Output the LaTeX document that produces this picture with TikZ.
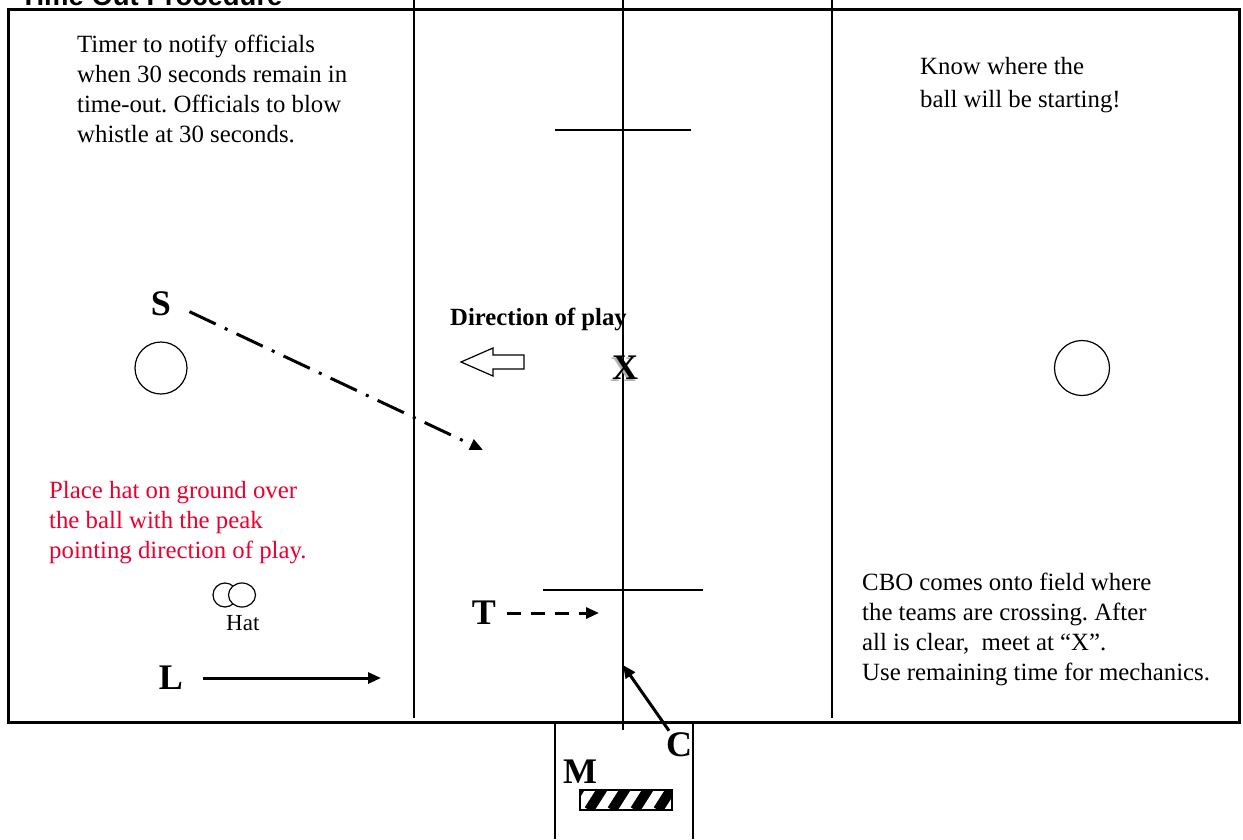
\documentclass[tikz,border=0pt]{standalone}
\usepackage{fontspec}
\setmainfont{Liberation Serif}
\newfontfamily\titlefont{Liberation Sans}
\usetikzlibrary{positioning,arrows.meta,shapes.geometric}
\definecolor{aviso}{RGB}{236,0,48}

\begin{document}
\frenchspacing
\begin{tikzpicture}[x=1pt, y=-1pt,
    linea/.style={line width=1.3pt},
    nota/.style={align=left, inner sep=0pt, anchor=north west,
                 font=\fontsize{24.8}{30}\selectfont},
    letra/.style={font=\fontsize{36}{36}\selectfont\bfseries, inner sep=2pt},
    mov/.style={line width=3pt, -{Triangle[length=13pt,width=11pt]}},
    circulo/.style={draw, line width=1.2pt, circle, inner sep=0pt}]
  \useasboundingbox (0,0) rectangle (1243,839);

  % campo
  \node[anchor=base west, inner sep=0pt,
        font=\titlefont\bfseries\fontsize{27.5}{28}\selectfont] (titulo) at (20,5) {Time Out Procedure};
  \draw[line width=3pt] (8,9) rectangle (1239,722);
  \draw[linea] (414,0) -- (414,718);
  \draw[linea] (623,0) -- (623,730);
  \draw[linea] (832,0) -- (832,718);
  \draw[linea] (555,130) -- (691,130);
  \draw[linea] (543,590) -- (703,590);
  \draw[linea] (555,722) -- (555,839);
  \draw[linea] (693,722) -- (693,839);
  \node[circulo, minimum size=52pt] (centroIzq) at (161,368) {};
  \node[circulo, minimum size=55pt] (centroDer) at (1082,368) {};

  % textos
  \node[nota] (tiempo) at (77,35) {Timer to notify officials\\ when 30 seconds remain in\\
    time-out. Officials to blow\\ whistle at 30 seconds.};
  \node[nota, font=\fontsize{24.8}{33}\selectfont] (saber) at (920,57) {Know where the\\ ball will be starting!};
  \node[nota, text=aviso] (gorro) at (49,481) {Place hat on ground over\\ the ball with the peak\\
    pointing direction of play.};
  \node[nota] (cbo) at (862,573) {CBO comes onto field where\\ the teams are crossing. After\\
    all is clear,\ \ meet at ``X''.\\ Use remaining time for mechanics.};
  \node[anchor=base west, inner sep=0pt, font=\fontsize{24.7}{24}\selectfont\bfseries] (direccion)
    at (450,325) {Direction of play};
  \draw[line width=1.2pt, line join=miter]
    (461,362) -- (493,348) -- (493,355) -- (524,355) -- (524,369) -- (493,369) -- (493,376) -- cycle;

  % balon
  \node[letra, text=black!30] at (623,370) {X};
  \node[letra] (X) at (625,368) {X};

  % sombrero
  \node[circulo, minimum size=24pt] (gorra1) at (225,595) {};
  \node[draw, line width=1.2pt, inner sep=0pt, fill=white, minimum width=27pt, minimum height=24pt, ellipse] (gorra2) at (242,595) {};
  \node[inner sep=0pt, anchor=base west, font=\fontsize{23}{23}\selectfont] (hat) at (226,630) {Hat};

  % oficiales
  \node[letra] (S) at (161,304) {S};
  \node[letra] (L) at (171,678) {L};
  \node[letra] (T) at (484,613) {T};
  \node[letra] (C) at (679,745) {C};
  \node[letra] (M) at (580,772) {M};
  \coordinate (sFin) at (483,450);
  \coordinate (lFin) at (381,678);
  \coordinate (tFin) at (599,613);
  \coordinate (cFin) at (623,665);
  \draw[mov, dash pattern=on 29pt off 10pt on 3pt off 10pt, shorten <=18pt] (S.east) -- (sFin);
  \draw[mov, shorten <=18pt] (L.east) -- (lFin);
  \draw[mov, dash pattern=on 14pt off 10pt, shorten <=9pt] (T.east) -- (tFin);
  \draw[mov] (C) -- (cFin);

  % mesa
  \node[draw, line width=1.2pt, minimum width=92pt, minimum height=20pt, inner sep=0pt,
        path picture={
          \foreach \k in {0,...,5}
            \draw[line width=10pt] ([xshift=\k*23pt-14pt]path picture bounding box.south west) -- ++(14pt,22pt);
        }] (banda) at (626,800) {};
\end{tikzpicture}
\end{document}
